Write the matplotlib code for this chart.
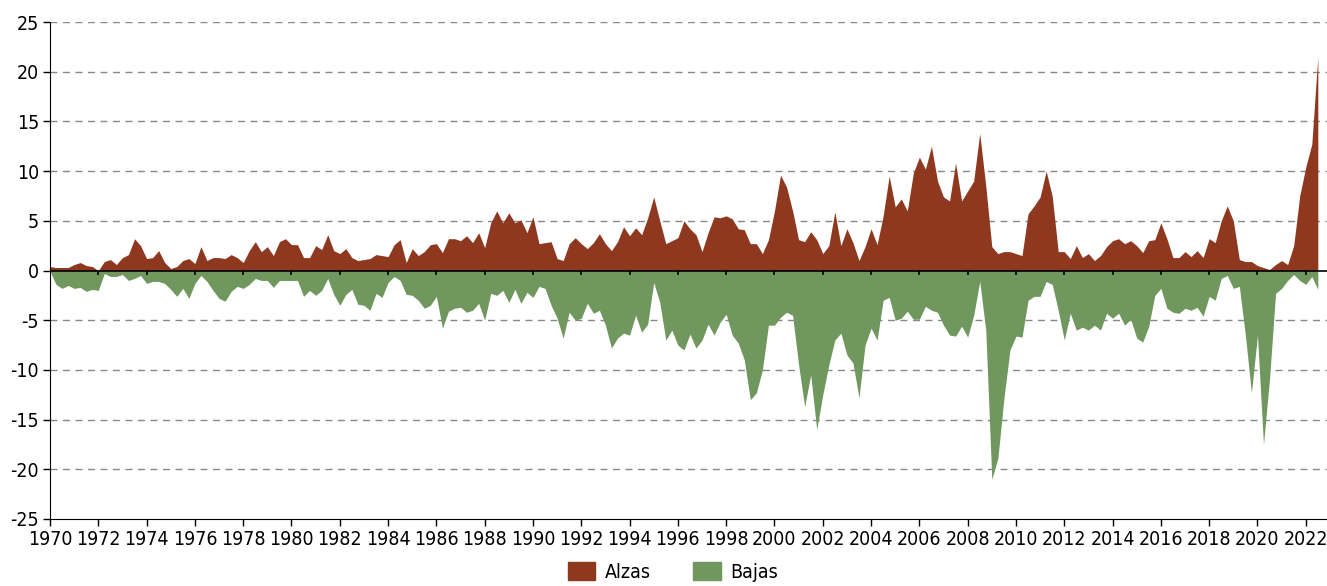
import numpy as np
import matplotlib
matplotlib.use('Agg')
import matplotlib.pyplot as plt
from matplotlib import font_manager as fm
from matplotlib.patches import Patch

# pick a narrow font if one is installed
narrow = [f for f in fm.fontManager.ttflist
          if ('Narrow' in f.name or 'Condensed' in f.name
              or f.stretch in ('condensed', 'semi-condensed', 500, 'semi-condensed'))
          and f.style == 'normal' and f.weight in (400, 'normal', 'regular')]
if narrow:
    plt.rcParams['font.family'] = [narrow[0].name, 'DejaVu Sans']
    plt.rcParams['font.stretch'] = narrow[0].stretch
    tick_size = 14
else:
    plt.rcParams['font.family'] = ['Roboto', 'DejaVu Sans']
    tick_size = 12.5
plt.rcParams['axes.unicode_minus'] = False

# quarterly series, 1970Q1 .. 2022Q3
start_year = 1970
alzas = [
    0.4, 0.3, 0.3, 0.3,  0.6, 0.8, 0.5, 0.4,  0.0, 0.9, 1.1, 0.6,  1.3, 1.6, 3.2, 2.5,
    1.2, 1.3, 2.0, 0.8,  0.2, 0.4, 1.0, 1.2,  0.7, 2.4, 1.0, 1.3,  1.3, 1.2, 1.6, 1.3,
    0.8, 2.0, 2.9, 1.9,  2.4, 1.5, 2.9, 3.2,  2.6, 2.6, 1.3, 1.3,  2.5, 2.1, 3.6, 2.0,
    1.7, 2.2, 1.3, 1.0,  1.1, 1.2, 1.6, 1.5,  1.4, 2.6, 3.1, 0.8,  2.2, 1.5, 1.9, 2.6,
    2.7, 1.8, 3.2, 3.2,  3.0, 3.5, 2.8, 3.8,  2.3, 4.8, 6.0, 4.8,  5.8, 4.8, 5.1, 3.8,
    5.4, 2.7, 2.8, 2.9,  1.2, 1.0, 2.7, 3.3,  2.7, 2.2, 2.8, 3.7,  2.7, 2.0, 2.9, 4.4,
    3.5, 4.3, 3.6, 5.3,  7.4, 5.0, 2.7, 3.0,  3.3, 5.0, 4.2, 3.6,  1.9, 3.8, 5.4, 5.3,
    5.5, 5.2, 4.2, 4.1,  2.7, 2.7, 1.7, 3.1,  6.0, 9.6, 8.4, 6.0,  3.1, 2.9, 3.9, 3.1,
    1.7, 2.5, 5.9, 2.5,  4.2, 2.8, 1.0, 2.4,  4.2, 2.6, 5.5, 9.5,  6.4, 7.2, 6.0, 9.8,
    11.4, 10.2, 12.5, 9.0,  7.4, 7.0, 10.8, 7.0,  8.0, 9.0, 13.8, 8.5,  2.4, 1.7, 1.9, 1.9,
    1.7, 1.5, 5.7, 6.5,  7.4, 10.0, 7.5, 1.9,  1.9, 1.2, 2.5, 1.3,  1.7, 1.0, 1.5, 2.4,
    3.0, 3.2, 2.7, 3.0,  2.5, 1.8, 3.0, 3.1,  4.8, 3.2, 1.3, 1.3,  1.9, 1.4, 2.0, 1.3,
    3.2, 2.8, 5.0, 6.5,  5.0, 1.1, 0.9, 0.9,  0.5, 0.3, 0.1, 0.6,  1.0, 0.6, 2.5, 7.5,
    10.4, 12.7, 21.5,
]
bajas = [
    -0.1, -1.4, -1.8, -1.5,  -1.8, -1.7, -2.1, -1.9,  -2.0, -0.3, -0.6, -0.6,  -0.4, -1.0, -0.8, -0.5,
    -1.3, -1.1, -1.1, -1.3,  -1.9, -2.6, -1.8, -2.8,  -1.3, -0.5, -1.1, -2.0,  -2.8, -3.1, -2.1, -1.6,
    -1.8, -1.4, -0.8, -1.0,  -1.0, -1.7, -1.0, -1.0,  -1.0, -1.0, -2.6, -2.0,  -2.5, -2.0, -0.8, -2.4,
    -3.5, -2.4, -1.9, -3.4,  -3.5, -4.0, -2.3, -2.7,  -1.2, -0.6, -1.0, -2.4,  -2.5, -3.0, -3.8, -3.5,
    -2.6, -5.8, -4.1, -3.8,  -3.7, -4.2, -4.0, -3.3,  -5.0, -2.3, -2.5, -2.0,  -3.2, -1.9, -3.3, -2.2,
    -2.7, -1.6, -1.8, -3.5,  -4.8, -6.8, -4.2, -5.0,  -4.8, -3.3, -4.3, -4.0,  -5.5, -7.8, -6.8, -6.3,
    -6.5, -4.5, -6.2, -5.4,  -1.2, -3.2, -7.0, -6.0,  -7.5, -8.0, -6.4, -7.8,  -7.0, -5.4, -6.5, -5.2,
    -4.4, -6.5, -7.3, -9.0,  -13.0, -12.3, -10.0, -5.5,  -5.5, -4.7, -4.2, -4.5,  -9.5, -13.7, -10.5, -16.0,
    -12.5, -9.5, -7.0, -6.3,  -8.5, -9.3, -12.8, -7.5,  -5.8, -7.0, -3.0, -2.7,  -5.0, -4.8, -4.1, -4.9,
    -4.9, -3.6, -4.0, -4.2,  -5.5, -6.5, -6.6, -5.6,  -6.7, -4.5, -1.1, -6.0,  -21.0, -18.9, -12.9, -8.0,
    -6.6, -6.7, -3.0, -2.6,  -2.6, -1.1, -1.4, -4.0,  -7.0, -4.3, -6.0, -5.7,  -6.0, -5.5, -6.0, -4.3,
    -4.8, -4.3, -5.5, -4.9,  -6.8, -7.2, -5.6, -2.5,  -1.8, -3.8, -4.2, -4.3,  -3.8, -4.0, -3.7, -4.6,
    -2.6, -3.0, -0.8, -0.5,  -1.8, -1.6, -6.5, -12.3,  -6.5, -17.5, -10.9, -2.3,  -1.8, -1.0, -0.4, -1.0,
    -1.4, -0.6, -1.9,
]
year_ticks = list(range(1970, 2023, 2))
y_ticks = list(range(-25, 30, 5))

red = '#8E3820'
green = '#70985E'

t = start_year + np.arange(len(alzas)) / 4.0

fig = plt.figure(figsize=(13.27, 5.86), dpi=100)
ax = fig.add_axes([50 / 1327, 67 / 586, 1 - 50 / 1327, 497 / 586])

ax.fill_between(t, 0, alzas, color=red, lw=0)
ax.fill_between(t, 0, bajas, color=green, lw=0)

# grid
for y in y_ticks:
    if y not in (0, -25):
        ax.axhline(y, color='#888888', lw=1, ls=(0, (5, 4)), zorder=0)
ax.axhline(0, color='black', lw=1.2, zorder=3)
ax.vlines(year_ticks, -0.5, 0, color='black', lw=1.2, zorder=3)

ax.set_xlim(1970, 2022.88)
ax.set_ylim(-25, 25)
ax.set_xticks(year_ticks)
ax.set_yticks(y_ticks)
ax.tick_params(labelsize=tick_size, length=5, width=1, direction='out', pad=3)
for s in ('top', 'right'):
    ax.spines[s].set_visible(False)

handles = [Patch(color=red, label='Alzas'), Patch(color=green, label='Bajas')]
fig.legend(handles=handles, loc='upper center', bbox_to_anchor=(0.507, 0.058), ncol=2,
           frameon=False, fontsize=tick_size, handlelength=1.4, handleheight=1.1,
           columnspacing=2.2, borderpad=0, handletextpad=0.5)

fig.savefig('out.png', dpi=100)
